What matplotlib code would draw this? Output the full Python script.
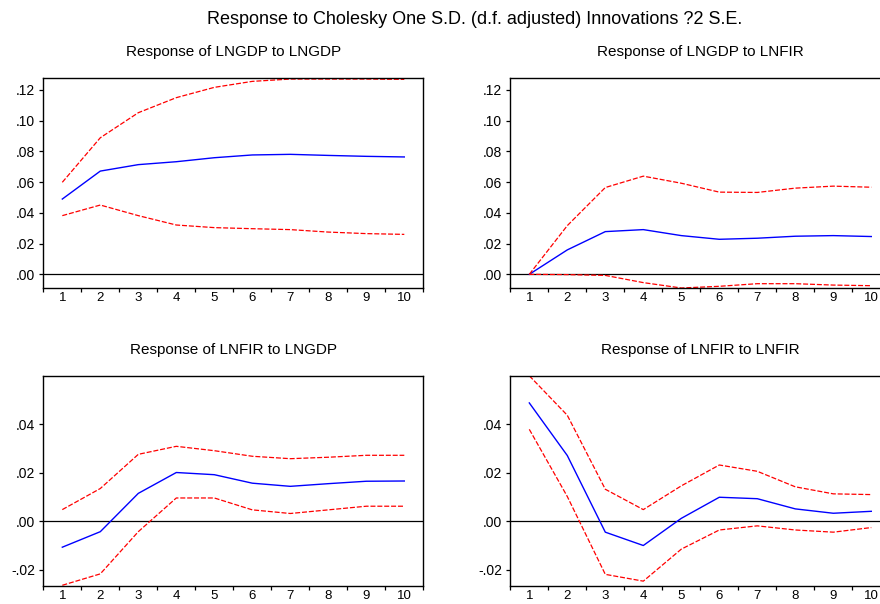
import numpy as np
import matplotlib.pyplot as plt
from matplotlib.ticker import FuncFormatter

plt.rcParams['font.family'] = ['Liberation Sans', 'DejaVu Sans']

periods = np.arange(1, 11)

# Response of LNGDP to LNGDP
gdp_gdp = [0.0490, 0.0672, 0.0714, 0.0733, 0.0759, 0.0777, 0.0781, 0.0774, 0.0768, 0.0764]
gdp_gdp_hi = [0.0599, 0.0889, 0.1052, 0.1150, 0.1217, 0.1256, 0.1271, 0.1271, 0.1271, 0.1269]
gdp_gdp_lo = [0.0382, 0.0451, 0.0382, 0.0321, 0.0304, 0.0297, 0.0291, 0.0275, 0.0265, 0.0260]

# Response of LNGDP to LNFIR
gdp_fir = [0.0, 0.0159, 0.0278, 0.0291, 0.0252, 0.0228, 0.0235, 0.0248, 0.0252, 0.0246]
gdp_fir_hi = [0.0, 0.0317, 0.0565, 0.0639, 0.0593, 0.0535, 0.0533, 0.0561, 0.0574, 0.0567]
gdp_fir_lo = [0.0, -0.0002, -0.0007, -0.0054, -0.0089, -0.0078, -0.0061, -0.0061, -0.0070, -0.0074]

# Response of LNFIR to LNGDP
fir_gdp = [-0.0107, -0.0043, 0.0115, 0.0201, 0.0192, 0.0157, 0.0144, 0.0155, 0.0165, 0.0166]
fir_gdp_hi = [0.0048, 0.0135, 0.0276, 0.0309, 0.0291, 0.0268, 0.0258, 0.0264, 0.0272, 0.0272]
fir_gdp_lo = [-0.0264, -0.0217, -0.0043, 0.0096, 0.0096, 0.0047, 0.0032, 0.0047, 0.0062, 0.0062]

# Response of LNFIR to LNFIR
fir_fir = [0.0488, 0.0271, -0.0045, -0.0100, 0.0012, 0.0099, 0.0093, 0.0051, 0.0033, 0.0041]
fir_fir_hi = [0.0600, 0.0437, 0.0132, 0.0048, 0.0146, 0.0232, 0.0206, 0.0142, 0.0113, 0.0110]
fir_fir_lo = [0.0379, 0.0102, -0.0219, -0.0247, -0.0115, -0.0036, -0.0019, -0.0036, -0.0045, -0.0026]

panels = [
    ('Response of LNGDP to LNGDP', gdp_gdp, gdp_gdp_hi, gdp_gdp_lo, (-0.0091, 0.1276), [0, .02, .04, .06, .08, .10, .12]),
    ('Response of LNGDP to LNFIR', gdp_fir, gdp_fir_hi, gdp_fir_lo, (-0.0091, 0.1276), [0, .02, .04, .06, .08, .10, .12]),
    ('Response of LNFIR to LNGDP', fir_gdp, fir_gdp_hi, fir_gdp_lo, (-0.0267, 0.0599), [-.02, 0, .02, .04]),
    ('Response of LNFIR to LNFIR', fir_fir, fir_fir_hi, fir_fir_lo, (-0.0267, 0.0599), [-.02, 0, .02, .04]),
]

W, H = 880, 604
fig = plt.figure(figsize=(8.8, 6.04), dpi=100)

# axes boxes in pixels: left, top, right, bottom (right panels run off the edge)
boxes = [(43.3, 78.3, 423.3, 288.3), (510.3, 78.3, 890.3, 288.3),
         (43.3, 376.0, 423.3, 586.0), (510.3, 376.0, 890.3, 586.0)]


def fmt(v, pos):
    s = '%.2f' % v
    s = s.replace('0.', '.')
    if s == '-.00':
        s = '.00'
    return s


for (title, mid, hi, lo, ylim, yt), (l, t, r, b) in zip(panels, boxes):
    ax = fig.add_axes([l / W, 1 - b / H, (r - l) / W, (b - t) / H])
    ax.axhline(0, color='black', lw=0.9)
    ax.plot(periods, mid, color='blue', lw=1.0)
    ax.plot(periods, hi, color='red', lw=0.9, ls=(0, (4, 1.5)))
    ax.plot(periods, lo, color='red', lw=0.9, ls=(0, (4, 1.5)))
    ax.set_xlim(0.5, 10.5)
    ax.set_ylim(*ylim)
    ax.set_xticks(np.arange(0.5, 11, 1))
    ax.set_xticklabels([])
    ax.set_xticks(periods, minor=True)
    ax.set_xticklabels([str(p) for p in periods], minor=True)
    ax.tick_params(axis='x', which='minor', length=0, pad=3, labelsize=9.5)
    ax.tick_params(axis='x', which='major', length=3, direction='out', width=0.9)
    ax.set_yticks(yt)
    ax.yaxis.set_major_formatter(FuncFormatter(fmt))
    ax.tick_params(axis='y', length=3, direction='out', width=0.9, labelsize=10, pad=3)
    for s in ax.spines.values():
        s.set_linewidth(1.0)
    fig.text((l + r) / 2 / W, 1 - (t - 26) / H, title,
             ha='center', va='center', fontsize=11)

fig.text(475 / W, 1 - 20 / H, 'Response to Cholesky One S.D. (d.f. adjusted) Innovations ?2 S.E.',
         ha='center', va='center', fontsize=13)

fig.savefig('out.png', dpi=100)
